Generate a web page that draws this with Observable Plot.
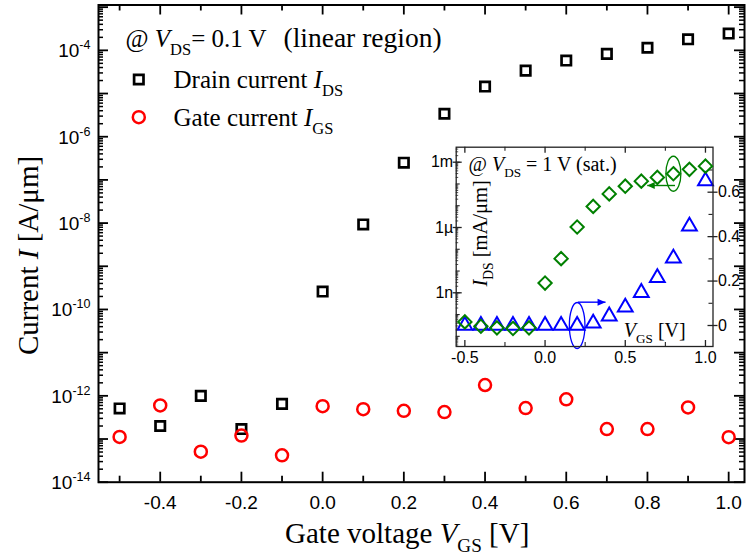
<!DOCTYPE html>
<html><head><meta charset="utf-8">
<script src="https://cdn.jsdelivr.net/npm/d3@7"></script>
<script src="https://cdn.jsdelivr.net/npm/@observablehq/plot@0.6"></script>
<style>
body{margin:0;background:#fff;}
#chart{position:relative;width:746px;height:560px;overflow:hidden;background:#fff;}
#chart svg{position:absolute;}
</style></head><body><div id="chart"></div>
<script>
// ---------- data ----------
const vgs = [-0.5,-0.4,-0.3,-0.2,-0.1,0.0,0.1,0.2,0.3,0.4,0.5,0.6,0.7,0.8,0.9,1.0];
const drainCurrent = [5.1e-13,2.0e-13,1.0e-12,1.7e-13,6.5e-13,2.6e-10,9.3e-9,2.5e-7,3.4e-6,1.45e-5,3.4e-5,5.8e-5,8.3e-5,1.15e-4,1.8e-4,2.45e-4];
const gateCurrent = [1.12e-13,6.0e-13,5.1e-14,1.2e-13,4.2e-14,5.75e-13,4.9e-13,4.5e-13,4.2e-13,1.78e-12,5.2e-13,8.3e-13,1.7e-13,1.7e-13,5.4e-13,1.1e-13];
const satCurrentLog = [4.6e-11,2.9e-11,2.45e-11,2.3e-11,2.45e-11,2.8e-9,3.7e-8,1.05e-6,9.3e-6,3.5e-5,7.9e-5,1.35e-4,2.0e-4,2.95e-4,4.7e-4,6.6e-4];
const satCurrentLin = [0,0,0,0,0,0,0,0,0.01,0.042,0.082,0.148,0.215,0.303,0.447,0.65];

const mainXMajor = [-0.4,-0.2,0.0,0.2,0.4,0.6,0.8,1.0];
const mainXMajorLabels = ["-0.4","-0.2","0.0","0.2","0.4","0.6","0.8","1.0"];
const mainXMinor = [-0.5,-0.3,-0.1,0.1,0.3,0.5,0.7,0.9];
const mainYLabelExps = [-14,-12,-10,-8,-6,-4];

const insetXMajor = [-0.5,0.0,0.5,1.0];
const insetXMajorLabels = ["-0.5","0.0","0.5","1.0"];
const insetXMinor = [-0.25,0.25,0.75];
const insetLogLabelValues = [1e-3,1e-6,1e-9];
const insetLogLabels = ["1m","1µ","1n"];
const insetLinMajor = [0,0.2,0.4,0.6];
const insetLinLabels = ["0","0.2","0.4","0.6"];
const insetLinMinor = [0.1,0.3,0.5,0.7];

const mainTitle = "@ *V*_{DS}= 0.1 V";
const regionNote = "(linear region)";
const legendLabels = ["Drain current *I*_{DS}","Gate current *I*_{GS}"];
const xTitle = "Gate voltage *V*_{GS} [V]";
const yTitle = "Current *I* [A/μm]";
const insetTitle = "@ *V*_{DS} = 1 V (sat.)";
const insetYTitle = "*I*_{DS} [mA/μm]";
const insetXTitle = "*V*_{GS} [V]";

const greenArrow = [{x1:0.81, x2:0.637, y:8.5e-5}];
const blueArrow = [{x1:0.205, x2:0.377, y:0.105}];
const greenRing = [{x:vgs[13], y:satCurrentLog[13]}];
const blueRing = [{x:vgs[7], y:satCurrentLin[7]}];

// ---------- helpers ----------
const GREEN = "#008000", BLUE = "#0000ff", RED = "#ff0000";
const SERIF = "Liberation Serif", SANS = "Liberation Sans";
const ellipse = (rx, ry) => ({draw(ctx){const k=0.5523;ctx.moveTo(rx,0);ctx.bezierCurveTo(rx,ry*k,rx*k,ry,0,ry);ctx.bezierCurveTo(-rx*k,ry,-rx,ry*k,-rx,0);ctx.bezierCurveTo(-rx,-ry*k,-rx*k,-ry,0,-ry);ctx.bezierCurveTo(rx*k,-ry,rx,-ry*k,rx,0);ctx.closePath();}});
const headLeft = {draw(ctx){ctx.moveTo(0,0);ctx.lineTo(7.5,-3.5);ctx.lineTo(7.5,3.5);ctx.closePath();}};
const headRight = {draw(ctx){ctx.moveTo(0,0);ctx.lineTo(-8,-3.5);ctx.lineTo(-8,3.5);ctx.closePath();}};
const isDecade = t => Math.abs(Math.log10(t) - Math.round(Math.log10(t))) < 1e-6;

function parseRich(s){
  const segs=[]; let italic=false, buf="", i=0;
  const push=()=>{ if(buf){segs.push({t:buf,italic,shift:0}); buf="";} };
  while(i<s.length){
    const c=s[i];
    if(c==="*"){push(); italic=!italic; i++;}
    else if((c==="_"||c==="^") && s[i+1]==="{"){push(); const j=s.indexOf("}",i); segs.push({t:s.slice(i+2,j),italic:false,shift:c==="_"?1:-1}); i=j+1;}
    else {buf+=c; i++;}
  }
  push(); return segs;
}
function applyRich(root){
  root.querySelectorAll("text").forEach(el=>{
    const s=el.textContent;
    if(!/\*|[_^]\{/.test(s)) return;
    const fs=parseFloat(getComputedStyle(el).fontSize)||16;
    el.textContent="";
    let cur=0;
    for(const g of parseRich(s)){
      const ts=document.createElementNS("http://www.w3.org/2000/svg","tspan");
      const target = g.shift===1 ? 0.32*fs : g.shift===-1 ? -0.42*fs : 0;
      if(target!==cur) ts.setAttribute("dy", (target-cur).toFixed(2));
      cur=target;
      if(g.shift) ts.setAttribute("font-size", (0.66*fs).toFixed(2));
      if(g.italic) ts.setAttribute("font-style","italic");
      ts.textContent=g.t; el.appendChild(ts);
    }
  });
}

// ---------- main chart ----------
const M = {w:746, h:560, l:98, r:2, t:4.5, b:78.3};
const fwM = M.w-M.l-M.r, fhM = M.h-M.t-M.b;
const mainYDomain = [1e-14, Math.pow(10,-2.95)];
const mainLogTicks = d3.scaleLog().domain(mainYDomain).ticks(40);
const mainYMajor = mainLogTicks.filter(isDecade);
const mainYMinor = mainLogTicks.filter(t=>!isDecade(t));
const mainRows = vgs.map((v,i)=>({vgs:v, ids:drainCurrent[i], igs:gateCurrent[i]}));

const main = Plot.plot({
  width:M.w, height:M.h, marginLeft:M.l, marginRight:M.r, marginTop:M.t, marginBottom:M.b,
  x:{domain:[-0.552,1.039], axis:null},
  y:{type:"log", domain:mainYDomain, axis:null},
  style:{fontFamily:SANS, background:"white", overflow:"visible", color:"black"},
  marks:[
    Plot.tickX(mainXMajor,{x:d=>d, insetTop:fhM-10, strokeWidth:1.8}),
    Plot.tickX(mainXMajor,{x:d=>d, insetBottom:fhM-10, strokeWidth:1.8}),
    Plot.tickX(mainXMinor,{x:d=>d, insetTop:fhM-6, strokeWidth:1.8}),
    Plot.tickX(mainXMinor,{x:d=>d, insetBottom:fhM-6, strokeWidth:1.8}),
    Plot.tickY(mainYMajor,{y:d=>d, insetRight:fwM-10, strokeWidth:1.8}),
    Plot.tickY(mainYMajor,{y:d=>d, insetLeft:fwM-10, strokeWidth:1.8}),
    Plot.tickY(mainYMinor,{y:d=>d, insetRight:fwM-5, strokeWidth:1.5}),
    Plot.tickY(mainYMinor,{y:d=>d, insetLeft:fwM-5, strokeWidth:1.5}),
    Plot.frame({strokeWidth:2}),
    Plot.text(mainXMajor,{x:d=>d, text:(d,i)=>mainXMajorLabels[i], frameAnchor:"bottom", dy:26.8, lineAnchor:"bottom", fontSize:19, fill:"black"}),
    Plot.text(mainYLabelExps,{y:d=>Math.pow(10,d), text:d=>`10^{${d}}`, frameAnchor:"left", textAnchor:"end", dx:-8, dy:7, lineAnchor:"bottom", fontSize:19, fill:"black"}),
    Plot.dot(mainRows,{x:"vgs", y:"ids", symbol:"square", r:5.3, stroke:"black", strokeWidth:2.7, fill:"none"}),
    Plot.dot(mainRows,{x:"vgs", y:"igs", symbol:"circle", r:6, stroke:RED, strokeWidth:2.5, fill:"none"}),
    Plot.text([mainTitle],{text:d=>d, frameAnchor:"top-left", dx:27, dy:42.2, textAnchor:"start", lineAnchor:"bottom", fontFamily:SERIF, fontSize:25, fill:"black"}),
    Plot.text([regionNote],{text:d=>d, frameAnchor:"top-left", dx:185, dy:42.2, textAnchor:"start", lineAnchor:"bottom", fontFamily:SERIF, fontSize:27.5, fill:"black"}),
    Plot.dot([0],{frameAnchor:"top-left", dx:40.3, dy:74.5, symbol:"square", r:5.3, stroke:"black", strokeWidth:2.7, fill:"none"}),
    Plot.dot([0],{frameAnchor:"top-left", dx:40.3, dy:112.2, symbol:"circle", r:6, stroke:RED, strokeWidth:2.5, fill:"none"}),
    Plot.text([legendLabels[0]],{text:d=>d, frameAnchor:"top-left", dx:75, dy:82.8, textAnchor:"start", lineAnchor:"bottom", fontFamily:SERIF, fontSize:25, fill:"black"}),
    Plot.text([legendLabels[1]],{text:d=>d, frameAnchor:"top-left", dx:75, dy:120.5, textAnchor:"start", lineAnchor:"bottom", fontFamily:SERIF, fontSize:25, fill:"black"}),
    Plot.text([xTitle],{text:d=>d, frameAnchor:"bottom", dx:-14.3, dy:60.6, textAnchor:"middle", lineAnchor:"bottom", fontFamily:SERIF, fontSize:29, fill:"black"}),
    Plot.text([yTitle],{text:d=>d, frameAnchor:"left", dx:-61, dy:11.9, rotate:-90, textAnchor:"middle", lineAnchor:"bottom", fontFamily:SERIF, fontSize:29, fill:"black"})
  ]
});

// ---------- inset ----------
const I = {left:410, top:140, w:336, h:230, l:45.7, r:33.5, t:6.7, b:24};
const fwI = I.w-I.l-I.r, fhI = I.h-I.t-I.b;
const insetX = {domain:[-0.554,1.047], axis:null};
const insetLogDomain = [Math.pow(10,-11.467), Math.pow(10,-2.311)];
const insetLogTicks = d3.scaleLog().domain(insetLogDomain).ticks(40);
const insetLogDecades = insetLogTicks.filter(isDecade);
const insetLogMinor = insetLogTicks.filter(t=>!isDecade(t));
const insetRows = vgs.map((v,i)=>({vgs:v, log:satCurrentLog[i], lin:satCurrentLin[i]}));
const common = {width:I.w, height:I.h, marginLeft:I.l, marginRight:I.r, marginTop:I.t, marginBottom:I.b,
  style:{fontFamily:SANS, background:"transparent", overflow:"visible", color:"black"}};

const insetLin = Plot.plot({
  ...common,
  x:insetX,
  y:{domain:[-0.0945,0.8025], axis:null},
  marks:[
    Plot.tickY(insetLinMajor,{y:d=>d, insetLeft:fwI-5, insetRight:-5, strokeWidth:1.3, stroke:"#222"}),
    Plot.tickY(insetLinMinor,{y:d=>d, insetLeft:fwI-4, strokeWidth:1.1, stroke:"#222"}),
    Plot.text(insetLinMajor,{y:d=>d, text:(d,i)=>insetLinLabels[i], frameAnchor:"right", textAnchor:"start", dx:5, fontSize:16, fill:"black"}),
    Plot.dot(insetRows,{x:"vgs", y:"lin", symbol:"triangle", r:5.5, stroke:BLUE, strokeWidth:2, fill:"none"}),
    Plot.dot(blueRing,{x:"x", y:"y", symbol:ellipse(7.8,23), stroke:BLUE, strokeWidth:1.3, fill:"none"}),
    Plot.link(blueArrow,{x1:"x1", x2:"x2", y1:"y", y2:"y", stroke:BLUE, strokeWidth:1.4}),
    Plot.dot(blueArrow,{x:"x2", y:"y", symbol:headRight, fill:BLUE, stroke:"none"})
  ]
});

const insetLog = Plot.plot({
  ...common,
  x:insetX,
  y:{type:"log", domain:insetLogDomain, axis:null},
  marks:[
    Plot.tickX(insetXMajor,{x:d=>d, insetTop:fhI-6, strokeWidth:1.3, stroke:"#222"}),
    Plot.tickX(insetXMajor,{x:d=>d, insetBottom:fhI-6, strokeWidth:1.3, stroke:"#222"}),
    Plot.tickX(insetXMinor,{x:d=>d, insetTop:fhI-4, strokeWidth:1.1, stroke:"#222"}),
    Plot.tickX(insetXMinor,{x:d=>d, insetBottom:fhI-4, strokeWidth:1.1, stroke:"#222"}),
    Plot.tickY(insetLogLabelValues,{y:d=>d, insetRight:fwI-6, insetLeft:-3, strokeWidth:1.3, stroke:"#222"}),
    Plot.tickY(insetLogDecades,{y:d=>d, insetRight:fwI-4, strokeWidth:1.1, stroke:"#222"}),
    Plot.tickY(insetLogMinor,{y:d=>d, insetRight:fwI-2.5, strokeWidth:0.9, stroke:"#333"}),
    Plot.frame({stroke:"#222", strokeWidth:1.3}),
    Plot.text(insetXMajor,{x:d=>d, text:(d,i)=>insetXMajorLabels[i], frameAnchor:"bottom", dy:16.8, lineAnchor:"bottom", fontSize:16, fill:"black"}),
    Plot.text(insetLogLabelValues,{y:d=>d, text:(d,i)=>insetLogLabels[i], frameAnchor:"left", textAnchor:"end", dx:-3, fontSize:16, fill:"black"}),
    Plot.dot(insetRows,{x:"vgs", y:"log", symbol:"diamond2", r:6, stroke:GREEN, strokeWidth:2, fill:"none"}),
    Plot.dot(greenRing,{x:"x", y:"y", symbol:ellipse(7.5,17.5), stroke:GREEN, strokeWidth:1.3, fill:"none"}),
    Plot.link(greenArrow,{x1:"x1", x2:"x2", y1:"y", y2:"y", stroke:GREEN, strokeWidth:1.4}),
    Plot.dot(greenArrow,{x:"x2", y:"y", symbol:headLeft, fill:GREEN, stroke:"none"}),
    Plot.text([insetTitle],{text:d=>d, frameAnchor:"top-left", dx:12.3, dy:23.3, textAnchor:"start", lineAnchor:"bottom", fontFamily:SERIF, fontSize:20, fill:"black"}),
    Plot.text([insetYTitle],{text:d=>d, frameAnchor:"left", dx:30.3, dy:-13.5, rotate:-90, textAnchor:"middle", lineAnchor:"bottom", fontFamily:SERIF, fontSize:20.5, fill:"black"}),
    Plot.text([insetXTitle],{text:d=>d, frameAnchor:"top-left", dx:167.6, dy:189.3, textAnchor:"start", lineAnchor:"bottom", fontFamily:SERIF, fontSize:20, fill:"black"})
  ]
});

const chart = document.getElementById("chart");
main.style.left="0px"; main.style.top="0px";
for (const s of [insetLin, insetLog]) { s.style.left=I.left+"px"; s.style.top=I.top+"px"; }
chart.appendChild(main); chart.appendChild(insetLin); chart.appendChild(insetLog);
applyRich(chart);
</script></body></html>
